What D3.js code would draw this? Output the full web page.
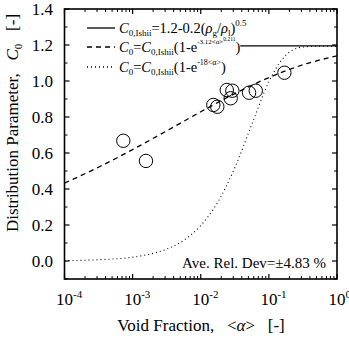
<!DOCTYPE html>
<html><head><meta charset="utf-8">
<script src="https://cdn.jsdelivr.net/npm/d3@7"></script>
<style>body{margin:0;background:#fff}svg{display:block}text{font-family:"Liberation Serif","Times New Roman",serif;fill:#000}</style>
</head><body><svg id="c" width="349" height="340"></svg>
<script>
// Measured points (void fraction, C0)
const pointAlpha = [0.00073, 0.00157, 0.0153, 0.0175, 0.0241, 0.0275, 0.0291, 0.0512, 0.0642, 0.169];
const pointC0    = [0.668,   0.556,   0.867,  0.857,  0.950,  0.904,  0.946,  0.935,  0.946,  1.046];
// Dashed curve
const dashAlpha = [1e-4, 3.16e-4, 1e-3, 3.16e-3, 1e-2, 3.16e-2, 0.1, 0.316, 1];
const dashC0    = [0.433, 0.521, 0.619, 0.723, 0.829, 0.930, 1.019, 1.090, 1.140];
// Dotted curve
const dotAlpha = [1e-4, 3.16e-4, 1e-3, 1.78e-3, 3.16e-3, 5.62e-3, 1e-2, 1.78e-2, 3.16e-2, 5.62e-2, 0.1, 0.178, 0.316, 0.562, 1];
const dotC0    = [0.002, 0.007, 0.021, 0.038, 0.066, 0.115, 0.197, 0.327, 0.518, 0.759, 0.996, 1.144, 1.189, 1.193, 1.193];
// Solid line (Ishii)
const solidAlpha = [0.038, 1];
const solidC0    = [1.195, 1.195];
const xTickExp = [-4, -3, -2, -1, 0];
const yTicks = [0.0, 0.2, 0.4, 0.6, 0.8, 1.0, 1.2, 1.4];

const svg = d3.select("#c");
const L = 64.5, R = 337, T = 9, B = 279;
const x = d3.scaleLog().domain([1e-4, 1]).range([L, R]);
const y = d3.scaleLinear().domain([-0.1, 1.4]).range([B, T]);

const g = svg.append("g");
const minorX = [];
for (let e = -4; e < 0; e++) for (let k = 2; k <= 9; k++) minorX.push(k * Math.pow(10, e));
const majorX = xTickExp.map(e => Math.pow(10, e));
const minorY = [-0.1, 0.1, 0.3, 0.5, 0.7, 0.9, 1.1, 1.3];
function tick(x1, y1, x2, y2, w) {
  g.append("line").attr("x1", x1).attr("y1", y1).attr("x2", x2).attr("y2", y2)
    .attr("stroke", "#000").attr("stroke-width", w);
}
majorX.forEach(v => { const px = x(v); tick(px, B, px, B - 5, 1.2); tick(px, T, px, T + 5, 1.2); });
minorX.forEach(v => { const px = x(v); tick(px, B, px, B - 3, 1); tick(px, T, px, T + 3, 1); });
yTicks.forEach(v => { const py = y(v); tick(L, py, L + 5, py, 1.2); tick(R, py, R - 5, py, 1.2); });
minorY.forEach(v => { const py = y(v); tick(L, py, L + 3, py, 1); tick(R, py, R - 3, py, 1); });

g.append("rect").attr("x", L).attr("y", T).attr("width", R - L).attr("height", B - T)
  .attr("fill", "none").attr("stroke", "#000").attr("stroke-width", 1.6);

yTicks.forEach(v => {
  g.append("text").attr("x", 53).attr("y", y(v) + 6).attr("text-anchor", "end")
    .attr("font-size", 17).text(v.toFixed(1));
});
xTickExp.forEach(e => {
  const t = g.append("text").attr("x", x(Math.pow(10, e)) - 8.5).attr("y", 305).attr("font-size", 17);
  t.append("tspan").text("10");
  t.append("tspan").attr("dy", -7).attr("font-size", 11).text(String(e));
});

const xt = g.append("text").attr("x", 201).attr("y", 331).attr("text-anchor", "middle").attr("font-size", 17)
  .attr("xml:space", "preserve");
xt.append("tspan").text("Void Fraction,   <");
xt.append("tspan").attr("font-style", "italic").text("α");
xt.append("tspan").text(">   [-]");

const yt = g.append("text").attr("transform", "translate(18,123) rotate(-90)").attr("text-anchor", "middle")
  .attr("font-size", 17).attr("xml:space", "preserve");
yt.append("tspan").text("Distribution Parameter,   ");
yt.append("tspan").attr("font-style", "italic").text("C");
yt.append("tspan").attr("dy", 4).attr("font-size", 11).text("0");
yt.append("tspan").attr("dy", -4).text("   [-]");

svg.append("clipPath").attr("id", "clip").append("rect").attr("x", L).attr("y", T).attr("width", R - L).attr("height", B - T);
const pg = svg.append("g").attr("clip-path", "url(#clip)");
const line = d3.line().x(d => x(d[0])).y(d => y(d[1])).curve(d3.curveMonotoneX);

pg.append("path").datum(solidAlpha.map((a, i) => [a, solidC0[i]])).attr("d", line)
  .attr("fill", "none").attr("stroke", "#000").attr("stroke-width", 1.3);
pg.append("path").datum(dashAlpha.map((a, i) => [a, dashC0[i]])).attr("d", line)
  .attr("fill", "none").attr("stroke", "#000").attr("stroke-width", 1.3).attr("stroke-dasharray", "5,4");
pg.append("path").datum(dotAlpha.map((a, i) => [a, dotC0[i]])).attr("d", line)
  .attr("fill", "none").attr("stroke", "#000").attr("stroke-width", 1.1).attr("stroke-dasharray", "1,3");

pg.selectAll("circle.p").data(pointAlpha.map((a, i) => [a, pointC0[i]])).enter().append("circle")
  .attr("cx", d => x(d[0])).attr("cy", d => y(d[1])).attr("r", 6.7)
  .attr("fill", "none").attr("stroke", "#000").attr("stroke-width", 1);

// legend
const leg = svg.append("g");
const rows = [
  { y: 28, dash: null },
  { y: 47, dash: "5,4" },
  { y: 67, dash: "1,3" }
];
rows.forEach(r => {
  leg.append("line").attr("x1", 87).attr("x2", 115).attr("y1", r.y).attr("y2", r.y)
    .attr("stroke", "#000").attr("stroke-width", 1.3).attr("stroke-dasharray", r.dash);
});
function addParts(t, parts) {
  parts.forEach(p => {
    const s = t.append("tspan").text(p[0]);
    const fs = p[3] || 10;
    if (p[1] === "i") s.attr("font-style", "italic");
    if (p[1] === "sub") s.attr("font-size", fs).attr("dy", 4);
    if (p[1] === "sup") s.attr("font-size", fs).attr("dy", -7);
    if (p[2] !== undefined) s.attr("dy", p[2]);
  });
}
const t1 = leg.append("text").attr("x", 119).attr("y", 33).attr("font-size", 14.5);
addParts(t1, [["C", "i"], ["0,Ishii", "sub", 3, 9], ["=1.2-0.2(", null, -3], ["ρ", "i"], ["g", "sub", 3, 9], ["/", null, -3], ["ρ", "i"], ["l", "sub", 3, 9], [")", null, -3], ["0.5", "sup", -7, 9]]);
const t2 = leg.append("text").attr("x", 119).attr("y", 52).attr("font-size", 14.5);
addParts(t2, [["C", "i"], ["0", "sub", 3, 9], ["=", null, -3], ["C", "i"], ["0,Ishii", "sub", 3, 9], ["(1-e", null, -3], ["-3.12<α>", "sup", -8, 7], ["0.211", "sup", -3, 5.5], [")", null, 11]]);
const t3 = leg.append("text").attr("x", 119).attr("y", 72).attr("font-size", 14.5);
addParts(t3, [["C", "i"], ["0", "sub", 3, 9], ["=", null, -3], ["C", "i"], ["0,Ishii", "sub", 3, 9], ["(1-e", null, -3], ["-18<α>", "sup", -7, 8], [")", null, 7]]);

svg.append("text").attr("x", 326).attr("y", 268).attr("text-anchor", "end").attr("font-size", 15)
  .text("Ave. Rel. Dev=±4.83 %");
</script></body></html>
